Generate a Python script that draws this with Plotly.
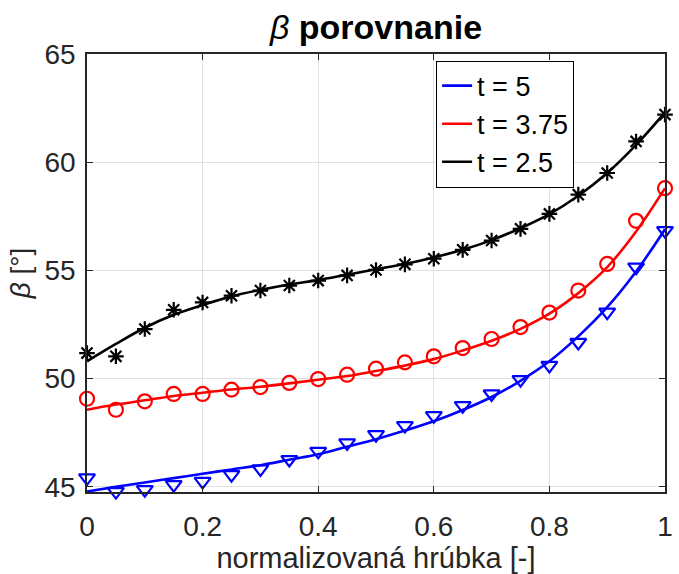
import plotly.graph_objects as go

x_pts = [0, 0.05, 0.1, 0.15, 0.2, 0.25, 0.3, 0.35, 0.4, 0.45, 0.5,
         0.55, 0.6, 0.65, 0.7, 0.75, 0.8, 0.85, 0.9, 0.95, 1.0]

# measured points
t5_pts = [45.41, 44.78, 44.87, 45.10, 45.25, 45.56, 45.83, 46.26, 46.64, 47.03, 47.41,
          47.83, 48.29, 48.75, 49.29, 49.95, 50.61, 51.67, 53.07, 55.15, 56.84]
t375_pts = [49.07, 48.56, 48.95, 49.29, 49.29, 49.49, 49.61, 49.80, 49.98, 50.18, 50.46,
            50.75, 51.03, 51.41, 51.83, 52.38, 53.05, 54.07, 55.30, 57.29, 58.80]
t25_pts = [51.18, 51.03, 52.29, 53.18, 53.52, 53.83, 54.07, 54.30, 54.53, 54.77, 55.02,
           55.28, 55.54, 55.95, 56.38, 56.92, 57.61, 58.50, 59.50, 60.96, 62.20]

# fitted curves
t5_fit = [44.78, 45.00, 45.20, 45.40, 45.60, 45.80, 46.00, 46.25, 46.50, 46.85, 47.20,
          47.60, 48.03, 48.55, 49.15, 49.90, 50.80, 51.95, 53.30, 54.95, 56.90]
t375_fit = [48.56, 48.80, 49.00, 49.20, 49.35, 49.50, 49.62, 49.78, 49.95, 50.12, 50.35,
            50.60, 50.90, 51.30, 51.75, 52.30, 53.00, 53.95, 55.15, 56.80, 58.80]
t25_fit = [50.80, 51.60, 52.35, 52.95, 53.40, 53.80, 54.10, 54.35, 54.55, 54.80, 55.05,
           55.30, 55.60, 55.95, 56.40, 56.95, 57.60, 58.45, 59.50, 60.80, 62.30]

x_ticks = [0, 0.2, 0.4, 0.6, 0.8, 1.0]
x_ticklabels = ["0", "0.2", "0.4", "0.6", "0.8", "1"]
y_ticks = [45, 50, 55, 60, 65]

series = [
    ("t = 5", t5_fit, t5_pts, "#0000ff", "triangle-down-open", 14),
    ("t = 3.75", t375_fit, t375_pts, "#ff0000", "circle-open", 14),
    ("t = 2.5", t25_fit, t25_pts, "#000000", "asterisk-open", 13),
]

fig = go.Figure()
for name, fit, pts, col, sym, sz in series:
    fig.add_trace(go.Scatter(x=x_pts, y=fit, mode="lines", name=name,
                             line=dict(color=col, width=2.6, shape="spline"),
                             showlegend=True, cliponaxis=False))
for name, fit, pts, col, sym, sz in series:
    fig.add_trace(go.Scatter(x=x_pts, y=pts, mode="markers", name=name,
                             marker=dict(symbol=sym, size=sz, color=col,
                                         line=dict(color=col, width=2.2)),
                             showlegend=False, cliponaxis=False))

axis_col = "#262626"
fig.update_layout(
    width=679, height=574,
    margin=dict(l=87, r=6, t=54, b=82),
    paper_bgcolor="white", plot_bgcolor="white",
    font=dict(family="Liberation Sans, Arial, sans-serif", color=axis_col, size=28),
    title=dict(text="<i>β</i> <b>porovnanie</b>", x=0.5, xref="paper",
               y=1 - 27 / 574, yref="container", yanchor="middle", xanchor="center",
               font=dict(size=34, color="#000000")),
    showlegend=True,
    legend=dict(x=0.604, y=0.985, xanchor="left", yanchor="top",
                bgcolor="white", bordercolor="#000000", borderwidth=1,
                font=dict(size=27, color="#000000"),
                tracegroupgap=0, itemwidth=30),
    xaxis=dict(range=[0, 1], tickvals=x_ticks, ticktext=x_ticklabels,
               showgrid=True, gridcolor="#e0e0e0", gridwidth=1,
               showline=True, linecolor=axis_col, linewidth=1.5, mirror="ticks",
               ticks="inside", ticklen=6, tickcolor=axis_col, zeroline=False,
               ticklabelstandoff=9,
               tickfont=dict(size=28, color=axis_col),
               title=dict(text="normalizovaná hrúbka [-]", standoff=4,
                          font=dict(size=29, color=axis_col))),
    yaxis=dict(range=[44.76, 65], tickvals=y_ticks,
               showgrid=True, gridcolor="#e0e0e0", gridwidth=1,
               showline=True, linecolor=axis_col, linewidth=1.5, mirror="ticks",
               ticks="inside", ticklen=6, tickcolor=axis_col, zeroline=False,
               ticklabelstandoff=4,
               tickfont=dict(size=28, color=axis_col),
               title=dict(text="<i>β</i> [°]", standoff=6,
                          font=dict(size=28, color=axis_col))),
)

fig.write_html("out.html")
